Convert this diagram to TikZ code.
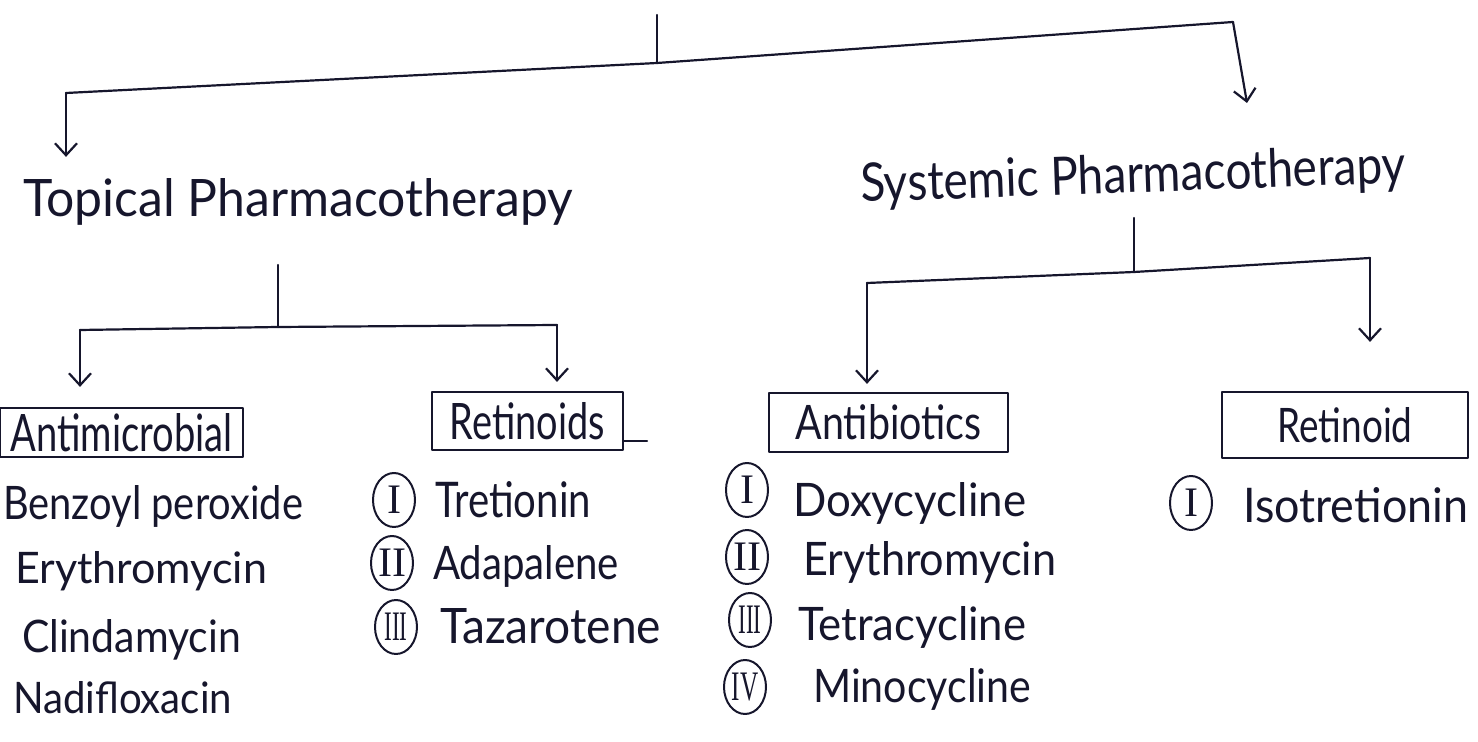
\documentclass[tikz,border=0pt]{standalone}
\usepackage{fontspec}
\setmainfont{Lato}
\newfontfamily\numfont{Liberation Serif}
\usetikzlibrary{arrows.meta,shapes.geometric}
\definecolor{ink}{HTML}{16162C}
% width given in pixels (half points), height in points
\newcommand\fitwh[3]{\resizebox{\dimexpr #1pt/2\relax}{#2pt}{#3}}
\begin{document}
\begin{tikzpicture}[x=0.5pt,y=-0.5pt, line width=1.1pt, draw=ink, text=ink,
  lbl/.style={inner sep=0pt, anchor=base west},
  boxnode/.style={draw, inner sep=0pt},
  num/.style={draw, ellipse, inner sep=0pt, minimum width=21pt, minimum height=27pt, line width=1pt,
    font=\numfont\fontsize{21}{21}\selectfont},
  arr/.style={-{Straight Barb[length=6pt,width=11pt]}},
  line join=round, line cap=round]
\useasboundingbox (0,0) rectangle (1478,742);

% level 1
\node[lbl] (tp) at (22,217) {\fitwh{550}{19}{Topical Pharmacotherapy}};
\node[lbl, rotate=2] (sp) at (860,202) {\fitwh{545}{19.5}{Systemic Pharmacotherapy}};

\coordinate (root) at (657,15);
\coordinate (rj) at (657,63);
\coordinate (rl) at (66,93);
\coordinate (rr) at (1233,22);
\coordinate (tipS) at (1247,103);
\draw (root) -- (rj);
\draw (rl) -- (rj) -- (rr);
\draw[arr, shorten >=10.5pt] (rl) -- (rl |- tp.north);
\draw[arr] (rr) -- (tipS);

% boxes
\node[boxnode, minimum width=121.5pt, minimum height=24.5pt] (am) at (121.5,432.5) {\fitwh{222}{19}{Antimicrobial}};
\node[boxnode, minimum width=95.5pt, minimum height=29pt] (rt) at (527.5,421) {\fitwh{155}{18.5}{Retinoids}};
\node[boxnode, minimum width=119.5pt, minimum height=29.5pt] (ab) at (888.5,422.5) {\fitwh{186}{17.5}{Antibiotics}};
\node[boxnode, minimum width=123pt, minimum height=33pt] (rd) at (1345,425) {\fitwh{135}{17.5}{Retinoid}};
\draw ([yshift=5pt]rt.south east) -- ++(23,0);

% topical branch
\coordinate (tst) at (278,265);
\coordinate (tjc) at (278,327);
\coordinate (tjl) at (80,330);
\coordinate (tjr) at (557,325);
\draw (tst) -- (tjc);
\draw (tjl) -- (tjc) -- (tjr);
\draw[arr, shorten >=10pt] (tjl) -- (tjl |- am.north);
\draw[arr, shorten >=4.5pt] (tjr) -- (tjr |- rt.north);

% systemic branch
\coordinate (sst) at (1134,218);
\coordinate (sjc) at (1134,272);
\coordinate (sjl) at (867,283);
\coordinate (sjr) at (1370,258);
\draw (sst) -- (sjc);
\draw (sjl) -- (sjc) -- (sjr);
\draw[arr, shorten >=4pt] (sjl) -- (sjl |- ab.north);
\draw[arr, shorten >=24.5pt] (sjr) -- (sjr |- rd.north);

% antimicrobial list
\node[lbl] (a1) at (2,520) {\fitwh{300}{17}{Benzoyl peroxide}};
\node[lbl] (a2) at (14,583) {\fitwh{252}{16}{Erythromycin}};
\node[lbl] (a3) at (21,653) {\fitwh{219}{16.5}{Clindamycin}};
\node[lbl] (a4) at (12,713) {\fitwh{219}{16}{Nadifloxacin}};

% retinoids list
\node[num] (r1n) at (394,500) {I};
\node[lbl] (r1) at (434,518) {\fitwh{156}{18}{Tretionin}};
\node[num] (r2n) at (392,563) {II};
\node[lbl] (r2) at (432,580) {\fitwh{186}{17}{Adapalene}};
\node[num] (r3n) at (396,627) {\scalebox{0.55}[1]{III}};
\node[lbl] (r3) at (439,643) {\fitwh{221}{17.5}{Tazarotene}};

% antibiotics list
\node[num] (b1n) at (747,490) {I};
\node[lbl] (b1) at (792,517) {\fitwh{233}{17}{Doxycycline}};
\node[num] (b2n) at (747,557) {II};
\node[lbl] (b2) at (802,576) {\fitwh{253}{17}{Erythromycin}};
\node[num] (b3n) at (750,620) {\scalebox{0.55}[1]{III}};
\node[lbl] (b3) at (797,640) {\fitwh{228}{17}{Tetracycline}};
\node[num] (b4n) at (745,687) {\scalebox{0.6}[1]{IV}};
\node[lbl] (b4) at (812,703) {\fitwh{218}{17}{Minocycline}};

% retinoid list
\node[num] (d1n) at (1191,503) {I};
\node[lbl] (d1) at (1242,523) {\fitwh{225}{17.5}{Isotretionin}};
\end{tikzpicture}
\end{document}
